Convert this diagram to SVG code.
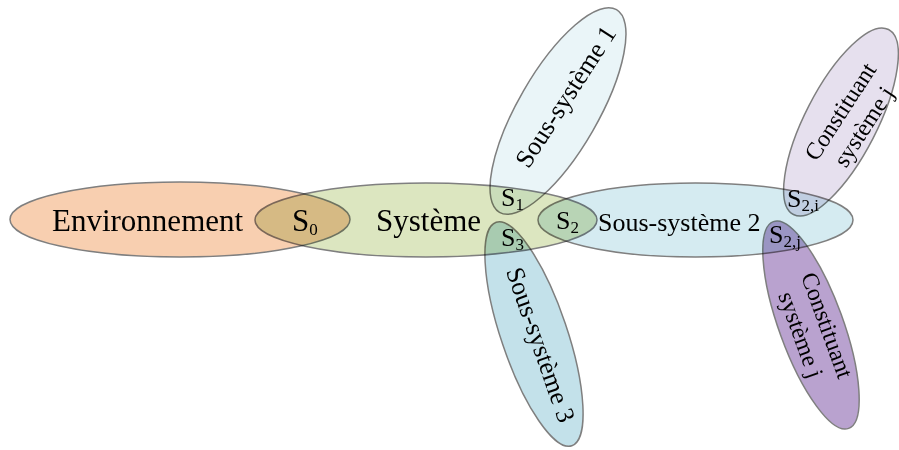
<svg xmlns="http://www.w3.org/2000/svg" width="899" height="450" viewBox="0 0 899 450">
<style>
.e{stroke:#7f7f7f;stroke-width:1.5;mix-blend-mode:multiply}
text{font-family:"Liberation Serif","Times New Roman",serif;fill:#000}
.big{font-size:31px}
.mid{font-size:26px}
.sm{font-size:24px}
.sub{font-size:17px}
</style>
<rect width="899" height="450" fill="#ffffff"/>
<g id="shapes">
<g id="environnement"><ellipse class="e" cx="180" cy="219.5" rx="170" ry="37.5" fill="#f8cfb0"/></g>
<g id="systeme"><ellipse class="e" cx="426" cy="220" rx="171" ry="37" fill="#dce6c0"/></g>
<g id="sous-systeme-2"><ellipse class="e" cx="695.5" cy="220" rx="157.5" ry="37" fill="#d5ebf1"/></g>
<g id="sous-systeme-1"><ellipse class="e" cx="558" cy="111" rx="117" ry="40" transform="rotate(-60 558 111)" fill="#eaf5f8"/></g>
<g id="sous-systeme-3"><ellipse class="e" cx="534" cy="334" rx="118" ry="33" transform="rotate(71.3 534 334)" fill="#c3e1ea"/></g>
<g id="constituant-i"><ellipse class="e" cx="841" cy="122" rx="104" ry="36" transform="rotate(-62.8 841 122)" fill="#e6e0ee"/></g>
<g id="constituant-j"><ellipse class="e" cx="811" cy="325" rx="110" ry="32" transform="rotate(70 811 325)" fill="#b9a2cf"/></g>
</g>
<g id="connectors"></g>
<g id="labels">
<text class="big" x="52" y="230.5">Environnement</text>
<text class="big" x="376" y="230.5">Système</text>
<text class="big" x="292" y="230.5">S<tspan class="sub" dy="4">0</tspan></text>
<text class="mid" x="598" y="230.5">Sous-système 2</text>
<text class="mid" x="501" y="206">S<tspan class="sub" dy="4">1</tspan></text>
<text class="mid" x="556" y="229">S<tspan class="sub" dy="4">2</tspan></text>
<text class="mid" x="501" y="246">S<tspan class="sub" dy="4">3</tspan></text>
<text class="mid" x="787" y="207">S<tspan class="sub" dy="4">2,i</tspan></text>
<text class="mid" x="769" y="243">S<tspan class="sub" dy="4">2,j</tspan></text>
<text class="mid" text-anchor="middle" transform="translate(566 97) rotate(-57)" y="8">Sous-système 1</text>
<text class="mid" text-anchor="middle" transform="translate(540 345) rotate(70.8)" y="8">Sous-système 3</text>
<g transform="translate(852 119) rotate(-57)">
<text class="sm" text-anchor="middle" y="-6">Constituant</text>
<text class="sm" text-anchor="middle" y="22">système j</text>
</g>
<g transform="translate(814 330) rotate(70)">
<text class="sm" text-anchor="middle" y="-6">Constituant</text>
<text class="sm" text-anchor="middle" y="22">système j</text>
</g>
</g>
</svg>
